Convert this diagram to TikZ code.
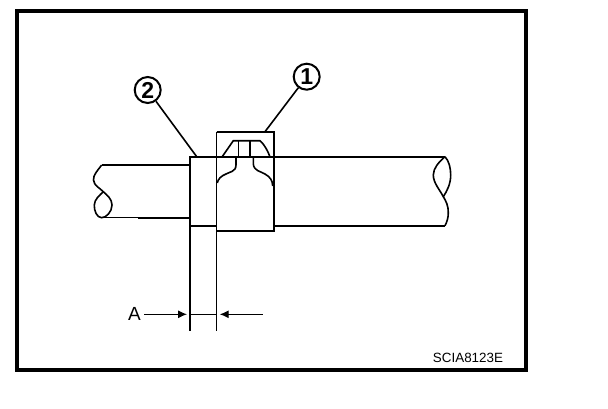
\documentclass[tikz,border=0pt]{standalone}
\usepackage{fontspec}
\setmainfont{Liberation Sans}
\usetikzlibrary{arrows.meta}
\tikzset{
  thick line/.style={line width=2.2pt, line cap=butt, line join=miter},
  mid line/.style={line width=1.6pt},
  thin line/.style={line width=1.1pt},
  callout/.style={circle, draw, line width=2pt, minimum size=26pt, inner sep=0pt, font=\fontsize{23}{23}\selectfont\bfseries},
  dimarrow/.style={line width=1.1pt, -{Latex[length=9pt,width=8pt]}, shorten >=3pt},
}
\begin{document}
\begin{tikzpicture}[x=1pt,y=-1pt]
\useasboundingbox (0,0) rectangle (608,408);
\fill[white] (0,0) rectangle (608,408);
% frame
\draw[line width=4pt] (17,11) rectangle (526,370);
% left pipe
\draw[thick line] (190,165) -- (101.7,165);
\draw[mid line] (101.7,165) .. controls (98,170) and (93,175) .. (93.5,180)
  .. controls (94,186) and (100,188) .. (103.3,191.7)
  .. controls (107,195) and (112,199) .. (112,205)
  .. controls (112,212) and (106,217.7) .. (101.7,217.7)
  .. controls (97,217.7) and (94,211) .. (94.3,205)
  .. controls (94.5,199) and (100,195) .. (103.3,191.7);
\draw[thin line] (101.7,217.7) -- (138,217.7);
\draw[thick line] (138,217.7) -- (190,217.7);
% plate
\draw[line width=2.4pt] (190,330.7) -- (190,156.7) -- (445,156.7);
\draw[thick line] (190,225.7) -- (216.7,225.7);
\draw[thin line] (216.7,131.7) -- (216.7,330.7);
% clip box
\draw[thick line] (216.7,131.7) -- (274,131.7) -- (274,231) -- (216.7,231);
% right pipe
\draw[thick line] (274,225.7) -- (445,225.7);
\draw[mid line] (445,156.7) .. controls (439,162) and (433.3,168) .. (433.3,175)
  .. controls (433.3,183) and (440,190) .. (443.3,196.7)
  .. controls (446,201) and (448.5,206) .. (448.3,213)
  .. controls (448.2,218) and (447,222) .. (445,225.7);
\draw[mid line] (445,156.7) .. controls (449,161) and (450.7,168) .. (450.7,175)
  .. controls (450.7,184) and (447,191) .. (443.3,196.7);
% clip details
\draw[mid line] (222,157) -- (233.3,140.7) -- (260,140.7) .. controls (264,144) and (268,151) .. (270,157);
\draw[thin line] (238.3,140.7) -- (238.3,157);
\draw[mid line] (250,140.7) -- (250,157);
\draw[mid line] (236,157) -- (236,165) .. controls (236,172) and (229,172) .. (226,174)
  .. controls (221,176) and (218,179) .. (217.3,183);
\draw[mid line] (253.3,157) -- (253.3,164) .. controls (254,171) and (260,171) .. (265,174)
  .. controls (270,177) and (272.5,180) .. (272.7,186);
% callouts
\node[callout] (two) at (147.7,90) {2};
\node[callout] (one) at (306.7,76.7) {1};
\coordinate (twoEnd) at (196.7,156.7);
\coordinate (oneEnd) at (265,131.7);
\draw[mid line] (two) -- (twoEnd);
\draw[mid line] (one) -- (oneEnd);
% dimension
\node[inner sep=0pt, font=\fontsize{19}{19}\selectfont] (dimA) at (134.5,314) {A};
\coordinate (dimLeft) at (190,314.3);
\coordinate (dimRight) at (216.7,314.3);
\coordinate (dimRightEnd) at (262.7,314.3);
\draw[dimarrow] (dimA.east) ++(3,0.3) -- (dimLeft);
\draw[dimarrow] (dimRightEnd) -- (dimRight);
\draw[thin line] (dimLeft) -- (dimRight);
\node[inner sep=0pt, font=\fontsize{13.4}{14}\selectfont] (code) at (468,358.3) {SCIA8123E};
\end{tikzpicture}
\end{document}
